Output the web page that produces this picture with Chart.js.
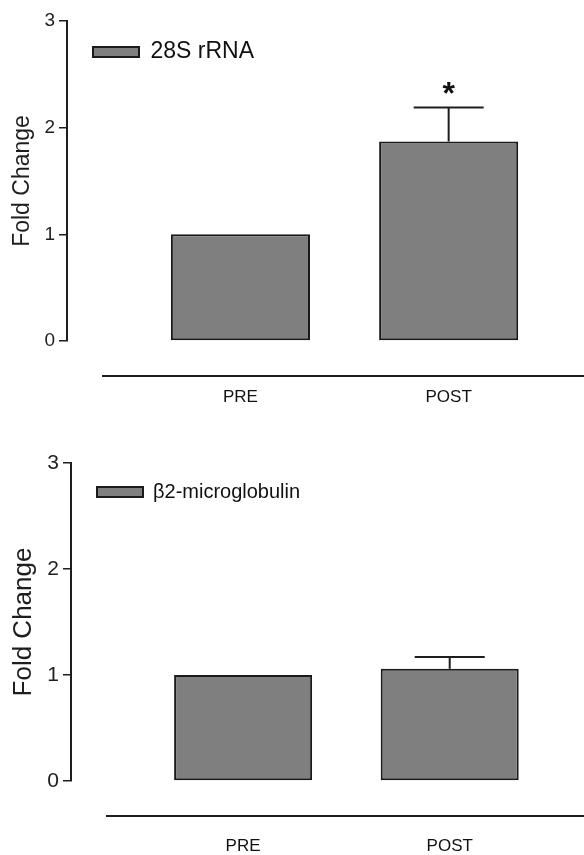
<!DOCTYPE html>
<html>
<head>
<meta charset="utf-8">
<script src="https://cdn.jsdelivr.net/npm/chart.js@4.4.1/dist/chart.umd.min.js"></script>
<style>
    html, body { margin: 0; padding: 0; background: #fff; }
    canvas { display: block; }
</style>
</head>
<body>
<canvas id="rrnaChart" width="584" height="420"></canvas>
<canvas id="b2mChart" width="584" height="435"></canvas>
<script>
const categories = ['PRE', 'POST'];
const yTicks = [0, 1, 2, 3];

const rrnaValues = [1.0, 1.87];
const rrnaErrors = [0, 0.32];
const rrnaSignificant = [false, true];

const b2mValues = [1.0, 1.06];
const b2mErrors = [0, 0.11];
const b2mSignificant = [false, false];

const FONT = "'Liberation Sans', Arial, Helvetica, sans-serif";
const INK = '#1e1e1e';

// error bars, significance star and the detached category baseline
const errorBarPlugin = {
    id: 'errorBars',
    afterDatasetsDraw(chart, args, opts) {
        const { ctx, chartArea, scales: { y } } = chart;
        const meta = chart.getDatasetMeta(0);
        ctx.save();
        ctx.strokeStyle = INK;
        ctx.fillStyle = '#111';
        ctx.lineWidth = 2;
        meta.data.forEach((bar, i) => {
            const top = y.getPixelForValue(opts.values[i] + opts.errors[i]);
            if (opts.errors[i] > 0) {
                ctx.beginPath();
                ctx.moveTo(bar.x, bar.y);
                ctx.lineTo(bar.x, top);
                ctx.moveTo(bar.x - opts.capHalf, top);
                ctx.lineTo(bar.x + opts.capHalf, top);
                ctx.stroke();
            }
            if (opts.significant[i]) {
                ctx.font = 'bold 32px ' + FONT;
                ctx.textAlign = 'center';
                ctx.textBaseline = 'alphabetic';
                ctx.fillText('*', bar.x, top - 3);
            }
        });
        const lineY = chartArea.bottom + opts.baselineGap;
        ctx.lineWidth = 1.8;
        ctx.beginPath();
        ctx.moveTo(chartArea.left + opts.baselineGap, lineY);
        ctx.lineTo(chart.width, lineY);
        ctx.stroke();
        ctx.restore();
    }
};

function makePanel(id, label, values, errors, significant, s) {
    const ctx = document.getElementById(id)?.getContext('2d');
    if (!ctx) return;
    return new Chart(ctx, {
        type: 'bar',
        data: {
            datasets: [{
                label: label,
                data: categories.map((c, i) => ({ x: i + 1, y: values[i] })),
                backgroundColor: '#7f7f7f',
                borderColor: '#1a1a1a',
                borderWidth: 2,
                borderSkipped: false,
                barPercentage: 1,
                categoryPercentage: 0.668
            }]
        },
        options: {
            responsive: false,
            animation: false,
            events: [],
            layout: { padding: { left: s.padLeft, top: s.padTop, right: 0, bottom: s.padBottom } },
            scales: {
                x: {
                    type: 'linear', min: 0.167, max: 2.65, offset: false,
                    afterBuildTicks: sc => { sc.ticks = categories.map((c, i) => ({ value: i + 1 })); },
                    afterFit: sc => { sc.height = s.xHeight; },
                    grid: { display: false, drawTicks: false },
                    border: { display: false },
                    ticks: { padding: s.xPad, color: '#111', font: { family: FONT, size: 17 }, callback: v => categories[v - 1] }
                },
                y: {
                    min: 0, max: 3,
                    afterBuildTicks: sc => { sc.ticks = yTicks.map(v => ({ value: v })); },
                    afterFit: sc => { sc.width = s.yWidth; },
                    grid: { drawOnChartArea: false, drawTicks: true, tickLength: 8, color: INK, lineWidth: 1.5 },
                    border: { display: true, color: INK, width: 2 },
                    ticks: { padding: 4, color: INK, font: { family: FONT, size: s.tickSize } },
                    title: { display: true, text: 'Fold Change', color: INK, font: { family: FONT, size: s.titleSize }, padding: { top: s.titleTop, bottom: 4 } }
                }
            },
            plugins: {
                legend: {
                    position: 'chartArea', align: 'start',
                    // empty title only pushes the legend row down
                    title: { display: true, text: '', font: { size: 0 }, padding: { top: s.legendDrop, bottom: 0 } },
                    labels: { boxWidth: 46, boxHeight: 10, padding: 26, color: '#111', font: { family: FONT, size: s.legendSize } }
                },
                tooltip: { enabled: false },
                errorBars: { values: values, errors: errors, significant: significant, capHalf: 35, baselineGap: 35 }
            }
        },
        plugins: [errorBarPlugin]
    });
}

makePanel('rrnaChart', '28S rRNA', rrnaValues, rrnaErrors, rrnaSignificant,
    { padLeft: 6, padTop: 21, padBottom: 5, xHeight: 74, xPad: 46, yWidth: 61, tickSize: 19, titleSize: 23, titleTop: 3, legendSize: 23, legendDrop: 14.5 });
makePanel('b2mChart', 'β2-microglobulin', b2mValues, b2mErrors, b2mSignificant,
    { padLeft: 7, padTop: 43, padBottom: 0, xHeight: 74, xPad: 55, yWidth: 64, tickSize: 21, titleSize: 26, titleTop: 1, legendSize: 20, legendDrop: 36 });
</script>
</body>
</html>
